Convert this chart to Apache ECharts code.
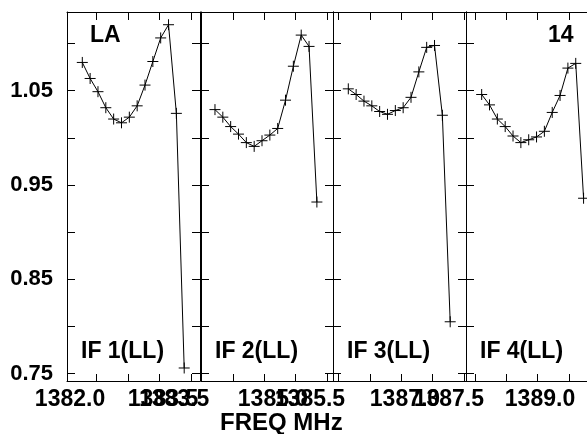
<!DOCTYPE html>
<html>
<head>
<meta charset="utf-8">
<script src="https://cdn.jsdelivr.net/npm/echarts@6/dist/echarts.min.js"></script>
<style>
html,body{margin:0;padding:0;background:#fff;}
#chart{width:587px;height:434px;}
</style>
</head>
<body>
<div id="chart"></div>
<script>
// ---- data ----
const panelNames = ['IF 1(LL)', 'IF 2(LL)', 'IF 3(LL)', 'IF 4(LL)'];
const sourceName = 'LA';
const antennaName = '14';
const xAxisName = 'FREQ MHz';

const if1Freq = [1382.270,1382.395,1382.520,1382.645,1382.770,1382.895,1383.020,1383.145,1383.270,1383.395,1383.520,1383.645,1383.770,1383.895];
const if1Amp  = [1.080,1.063,1.049,1.032,1.020,1.016,1.022,1.034,1.056,1.081,1.106,1.120,1.026,0.756];

const if2Freq = [1384.213,1384.338,1384.463,1384.588,1384.713,1384.838,1384.963,1385.088,1385.213,1385.338,1385.463,1385.588,1385.713,1385.838];
const if2Amp  = [1.030,1.022,1.012,1.004,0.995,0.991,0.997,1.003,1.010,1.040,1.076,1.109,1.097,0.932];

const if3Freq = [1386.156,1386.281,1386.406,1386.531,1386.656,1386.781,1386.906,1387.031,1387.156,1387.281,1387.406,1387.531,1387.656,1387.781];
const if3Amp  = [1.052,1.046,1.039,1.034,1.028,1.025,1.029,1.032,1.043,1.070,1.096,1.098,1.024,0.805];

const if4Freq = [1388.106,1388.231,1388.356,1388.481,1388.606,1388.731,1388.856,1388.981,1389.106,1389.231,1389.356,1389.481,1389.606,1389.731];
const if4Amp  = [1.046,1.035,1.020,1.012,1.002,0.995,0.998,1.001,1.007,1.027,1.045,1.074,1.079,0.936];

// axis ranges per panel (MHz)
const xMin = [1382.026, 1383.990, 1385.912, 1387.856];
const xMax = [1384.147, 1386.095, 1388.033, 1389.977];
// x tick label anchor values per panel (labels show value truncated to 0.5 MHz);
// two label rows overlap in the original plot
const xLabelA = [[1382.074, 1383.557], [1385.138], [1387.060], [1389.036]];
const xLabelB = [[1383.735], [1385.728], [1387.760], []];
const yMin = 0.7422, yMax = 1.1335;
const yTickValues  = [0.75, 0.80, 0.85, 0.90, 0.95, 1.00, 1.05, 1.10];
const yLabelValues = [0.75, 0.85, 0.95, 1.05];

const freqs = [if1Freq, if2Freq, if3Freq, if4Freq];
const amps  = [if1Amp, if2Amp, if3Amp, if4Amp];

// ---- layout ----
const gridLeft  = [67, 201, 333, 466];
const gridWidth = [133, 132, 133, 133];
const FONT = 'Liberation Sans';
const black = '#000';

function halfTicks(lo, hi) {
  const out = [];
  for (let v = Math.ceil(lo * 2) / 2; v <= hi + 1e-9; v += 0.5) out.push(+v.toFixed(3));
  return out;
}
const labelFmt = v => (Math.floor(v * 2 + 1e-6) / 2).toFixed(1);
function xLabelStyle(vals) {
  return {show: vals.length > 0, customValues: vals, hideOverlap: false,
    showMinLabel: true, showMaxLabel: true,
    margin: 7, color: black, fontFamily: FONT, fontWeight: 'bold', fontSize: 23,
    formatter: labelFmt};
}

const grids = [], xAxes = [], yAxes = [], series = [], texts = [];
for (let i = 0; i < 4; i++) {
  grids.push({left: gridLeft[i], width: gridWidth[i], top: 12, bottom: 53,
              containLabel: false, outerBoundsMode: 'none'});
  const ticks = halfTicks(xMin[i], xMax[i]);
  const common = {
    type: 'value', gridIndex: i, min: xMin[i], max: xMax[i],
    axisLine: {show: true, onZero: false, lineStyle: {color: black, width: 1}},
    axisTick: {show: true, inside: true, length: 7, customValues: ticks, lineStyle: {color: black, width: 1}},
    splitLine: {show: false}
  };
  // index 3i: bottom axis with first label row
  xAxes.push(Object.assign({}, common, {position: 'bottom', axisLabel: xLabelStyle(xLabelA[i])}));
  // index 3i+1: top axis
  xAxes.push(Object.assign({}, common, {position: 'top', axisLabel: {show: false},
    axisTick: Object.assign({}, common.axisTick, {length: 8})}));
  // index 3i+2: bottom, second (overlapping) label row only
  xAxes.push(Object.assign({}, common, {position: 'bottom',
    axisLine: {show: false, onZero: false}, axisTick: {show: false},
    axisLabel: xLabelStyle(xLabelB[i])}));

  const yCommon = {
    type: 'value', gridIndex: i, min: yMin, max: yMax,
    axisLine: {show: true, onZero: false, lineStyle: {color: black, width: 1}},
    axisTick: {show: true, inside: true, length: 8, customValues: yTickValues, lineStyle: {color: black, width: 1}},
    splitLine: {show: false}
  };
  yAxes.push(Object.assign({}, yCommon, {
    position: 'left',
    axisLabel: {show: i === 0, customValues: yLabelValues, hideOverlap: false,
      showMinLabel: true, showMaxLabel: true, margin: 14,
      color: black, fontFamily: FONT, fontWeight: 'bold', fontSize: 22,
      formatter: v => v.toFixed(2)}
  }));
  yAxes.push(Object.assign({}, yCommon, {position: 'right', axisLabel: {show: false}}));

  series.push({
    type: 'line', xAxisIndex: 3 * i, yAxisIndex: 2 * i,
    data: freqs[i].map((f, k) => [f, amps[i][k]]),
    symbol: 'path://M0,6L12,6M6,0L6,12', symbolSize: 11, showSymbol: true,
    lineStyle: {color: black, width: 1},
    itemStyle: {color: 'rgba(0,0,0,0)', borderColor: black, borderWidth: 1},
    clip: false, silent: true
  });

  texts.push({type: 'text', left: gridLeft[i] + 14, top: 340,
    style: {text: panelNames[i], fill: black, font: 'bold 23px "' + FONT + '"'}});
}
texts.push({type: 'text', left: 90, top: 24, style: {text: sourceName, fill: black, font: 'bold 23px "' + FONT + '"'}});
texts.push({type: 'text', left: 548, top: 24, style: {text: antennaName, fill: black, font: 'bold 23px "' + FONT + '"'}});
texts.push({type: 'text', left: 220, top: 411, style: {text: xAxisName, fill: black, font: 'bold 24px "' + FONT + '"'}});

const chart = echarts.init(document.getElementById('chart'), null, {renderer: 'canvas'});
chart.setOption({
  animation: false,
  backgroundColor: '#fff',
  grid: grids, xAxis: xAxes, yAxis: yAxes, series: series,
  graphic: texts
});
</script>
</body>
</html>
